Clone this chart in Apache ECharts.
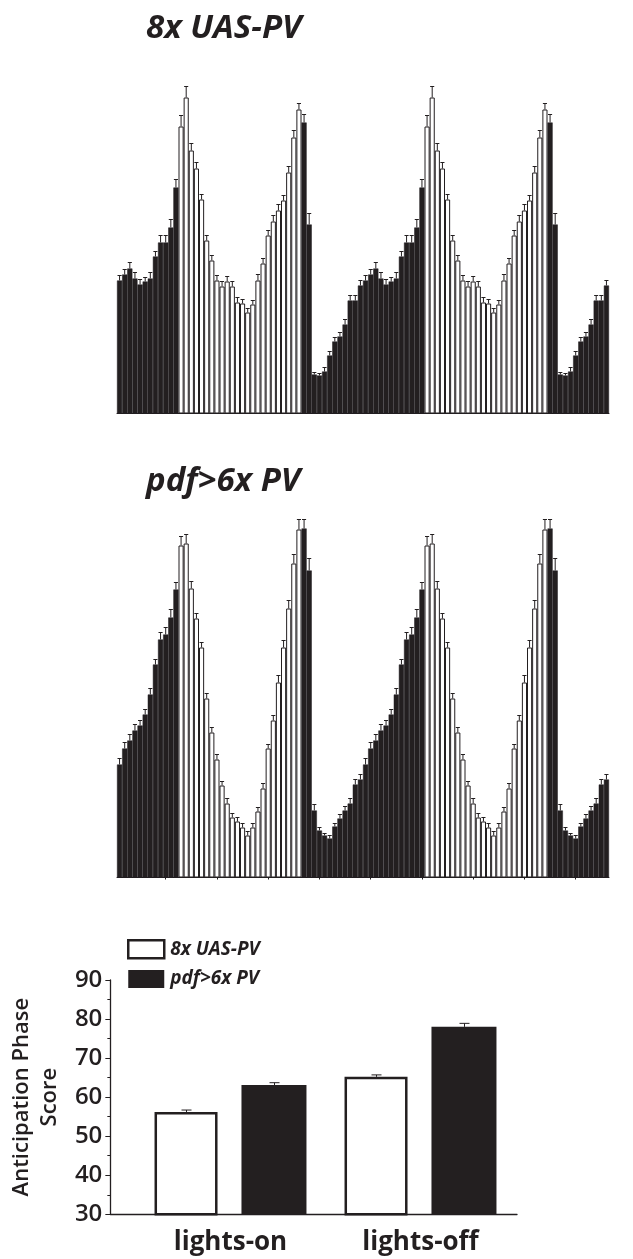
<!DOCTYPE html>
<html lang="en">
<head>
<meta charset="UTF-8">
<title>Anticipation</title>
<script src="https://cdn.jsdelivr.net/npm/echarts@6/dist/echarts.min.js"></script>
<style>
  html, body { margin: 0; padding: 0; background: #fff; }
  #main { width: 633px; height: 1259px; }
</style>
</head>
<body>
<div id="main"></div>
<script>
// half-hour bins, double plotted (2 days x 48 bins)
const binLabels = [];
for (let i = 1; i <= 96; i++) binLabels.push(String(i));

// lights-on bins (0-based, end exclusive)
const lightBins = [[12, 36], [60, 84]];

// 8x UAS-PV activity (mean, sem)
const uasMean = [
  133, 139, 145, 135, 129, 132, 135, 157, 171, 171, 186, 226,
  287, 316, 263, 245, 214, 173, 153, 133, 127, 132, 127, 111,
  110, 101, 109, 133, 150, 178, 192, 203, 213, 241, 276, 304,
  291, 189, 39, 38, 42, 58, 72, 77, 89, 113, 113, 128,
  133, 139, 145, 135, 129, 132, 135, 157, 171, 171, 186, 226,
  287, 316, 263, 245, 214, 173, 153, 133, 127, 132, 127, 111,
  110, 101, 109, 133, 150, 178, 192, 203, 213, 241, 276, 304,
  291, 189, 39, 38, 42, 58, 72, 77, 89, 113, 113, 128
];
const uasErr = [
  5, 5, 6, 6, 5, 4, 6, 5, 7, 7, 8, 8,
  11, 11, 7, 6, 5, 5, 5, 5, 5, 5, 5, 5,
  4, 4, 4, 6, 5, 5, 6, 6, 5, 6, 7, 6,
  8, 11, 2, 2, 4, 4, 4, 4, 5, 5, 5, 5,
  5, 5, 6, 6, 5, 4, 6, 5, 7, 7, 8, 8,
  11, 11, 7, 6, 5, 5, 5, 5, 5, 5, 5, 5,
  4, 4, 4, 6, 5, 5, 6, 6, 5, 6, 7, 6,
  8, 11, 2, 2, 4, 4, 4, 4, 5, 5, 5, 5
];

// pdf>6x PV activity (mean, sem)
const pdfMean = [
  113, 129, 137, 147, 152, 163, 183, 213, 238, 243, 260, 288,
  332, 334, 289, 259, 230, 179, 145, 118, 92, 74, 60, 56,
  50, 42, 50, 66, 89, 129, 157, 195, 230, 269, 314, 348,
  349, 307, 67, 47, 42, 39, 51, 59, 67, 74, 93, 98,
  113, 129, 137, 147, 152, 163, 183, 213, 238, 243, 260, 288,
  332, 334, 289, 259, 230, 179, 145, 118, 92, 74, 60, 56,
  50, 42, 50, 66, 89, 129, 157, 195, 230, 269, 314, 348,
  349, 307, 67, 47, 42, 39, 51, 59, 67, 74, 93, 98
];
const pdfErr = [
  6, 6, 6, 6, 5, 5, 6, 5, 7, 7, 8, 7,
  9, 9, 7, 5, 5, 5, 5, 5, 4, 5, 4, 4,
  4, 4, 4, 4, 5, 4, 5, 7, 7, 8, 9, 10,
  9, 12, 6, 3, 2, 3, 3, 4, 4, 5, 5, 5,
  6, 6, 6, 6, 5, 5, 6, 5, 7, 7, 8, 7,
  9, 9, 7, 5, 5, 5, 5, 5, 4, 5, 4, 4,
  4, 4, 4, 4, 5, 4, 5, 7, 7, 8, 9, 10,
  9, 12, 6, 3, 2, 3, 3, 4, 4, 5, 5, 5
];

// anticipation phase score
const scoreCategories = ['lights-on', 'lights-off'];
const uasScore = [56.2, 65.2];
const uasScoreErr = [0.5, 0.5];
const pdfScore = [63.1, 78.0];
const pdfScoreErr = [0.6, 0.9];

const ink = '#231f20';
const font = 'Open Sans';

function isLight(i) {
  return lightBins.some(function (r) { return i >= r[0] && i < r[1]; });
}

function barData(means) {
  return means.map(function (v, i) {
    return {
      value: v,
      itemStyle: isLight(i)
        ? { color: '#fff', borderColor: ink, borderWidth: 1 }
        : { color: ink, borderColor: ink, borderWidth: 0.5 }
    };
  });
}

function errData(means, errs) {
  return means.map(function (v, i) { return [i, v, v + errs[i]]; });
}

// upper whisker with cap; shift = pixel offset from category centre
function errRender(shift, capW) {
  return function (params, api) {
    const x = api.value(0);
    const p0 = api.coord([x, api.value(1)]);
    const p1 = api.coord([x, api.value(2)]);
    const cx = p0[0] + shift;
    const w = capW || api.size([1, 0])[0] * 0.8;
    const st = { stroke: ink, lineWidth: 1 };
    return {
      type: 'group',
      children: [
        { type: 'line', shape: { x1: cx, y1: p0[1], x2: cx, y2: p1[1] }, style: st },
        { type: 'line', shape: { x1: cx - w / 2, y1: p1[1], x2: cx + w / 2, y2: p1[1] }, style: st }
      ]
    };
  };
}

function actXAxis(grid, inside) {
  return {
    type: 'category', gridIndex: grid, data: binLabels,
    axisLine: { lineStyle: { color: ink, width: 1 } },
    axisTick: {
      show: true, inside: inside, length: 2, alignWithLabel: true,
      interval: function (idx) { return idx % 10 === 9; },
      lineStyle: { color: ink }
    },
    axisLabel: { show: false }
  };
}

const titleStyle = { fontSize: 33, fontWeight: 'bold', fontStyle: 'italic', fontFamily: font, color: ink };

const myChart = echarts.init(document.getElementById('main'));
myChart.setOption({
  animation: false,
  backgroundColor: '#fff',
  textStyle: { fontFamily: font, color: ink },
  title: [
    { text: '8x UAS-PV', left: 146, top: 12, padding: 0, textStyle: titleStyle },
    { text: 'pdf>6x PV', left: 146, top: 465, padding: 0, textStyle: titleStyle }
  ],
  legend: {
    orient: 'vertical', left: 127, top: 939, padding: 0,
    itemWidth: 36, itemHeight: 18, itemGap: 10, icon: 'rect',
    selectedMode: false,
    data: [
      { name: '8x UAS-PV', itemStyle: { color: '#fff', borderColor: ink, borderWidth: 2.5 } },
      { name: 'pdf>6x PV', itemStyle: { color: ink } }
    ],
    textStyle: { fontSize: 19, fontWeight: 'bold', fontStyle: 'italic', fontFamily: font, color: ink, padding: [0, 0, 0, 1] }
  },
  grid: [
    { left: 117, width: 492, top: 53.5, height: 360 },
    { left: 117, width: 492, top: 517.5, height: 360 },
    { left: 104.5, right: 116, top: 980, height: 234.3 },
    { left: 135.5, right: 117.5, top: 980, height: 234.3 }
  ],
  xAxis: [
    actXAxis(0, true),
    actXAxis(1, false),
    {
      type: 'category', gridIndex: 2, data: [''],
      axisLine: { lineStyle: { color: ink, width: 1.3 } },
      axisTick: { show: false }, axisLabel: { show: false }
    },
    {
      type: 'category', gridIndex: 3, data: scoreCategories,
      axisLine: { show: false }, axisTick: { show: false },
      axisLabel: { fontSize: 26, fontWeight: 'bold', fontFamily: font, color: ink, margin: 15 }
    }
  ],
  yAxis: [
    { type: 'value', gridIndex: 0, min: 0, max: 360, show: false },
    { type: 'value', gridIndex: 1, min: 0, max: 360, show: false },
    {
      type: 'value', gridIndex: 2, min: 30, max: 90, interval: 10,
      name: 'Anticipation Phase\nScore', nameLocation: 'middle', nameGap: 38, nameRotate: 90,
      nameTextStyle: { fontSize: 22, fontWeight: 600, fontFamily: font, color: ink, lineHeight: 28 },
      axisLine: { show: true, lineStyle: { color: ink, width: 1.3 } },
      axisTick: { show: true, length: 5, lineStyle: { color: ink } },
      minorTick: { show: true, splitNumber: 2, length: 3, lineStyle: { color: ink } },
      splitLine: { show: false },
      axisLabel: { fontSize: 24, fontWeight: 600, fontFamily: font, color: ink, margin: 8 }
    },
    { type: 'value', gridIndex: 3, min: 30, max: 90, show: false }
  ],
  series: [
    {
      type: 'bar', xAxisIndex: 0, yAxisIndex: 0, barCategoryGap: '0%',
      data: barData(uasMean)
    },
    {
      type: 'custom', xAxisIndex: 0, yAxisIndex: 0,
      renderItem: errRender(0), data: errData(uasMean, uasErr), z: 3
    },
    {
      type: 'bar', xAxisIndex: 1, yAxisIndex: 1, barCategoryGap: '0%',
      data: barData(pdfMean)
    },
    {
      type: 'custom', xAxisIndex: 1, yAxisIndex: 1,
      renderItem: errRender(0), data: errData(pdfMean, pdfErr), z: 3
    },
    {
      name: '8x UAS-PV', type: 'bar', xAxisIndex: 3, yAxisIndex: 3,
      barWidth: 63, barGap: '38%',
      itemStyle: { color: '#fff', borderColor: ink, borderWidth: 2.5 },
      data: uasScore
    },
    {
      name: 'pdf>6x PV', type: 'bar', xAxisIndex: 3, yAxisIndex: 3,
      barWidth: 65, barGap: '38%',
      itemStyle: { color: ink },
      data: pdfScore
    },
    {
      type: 'custom', xAxisIndex: 3, yAxisIndex: 3, z: 3,
      renderItem: errRender(-44, 10), data: errData(uasScore, uasScoreErr)
    },
    {
      type: 'custom', xAxisIndex: 3, yAxisIndex: 3, z: 3,
      renderItem: errRender(44, 10), data: errData(pdfScore, pdfScoreErr)
    }
  ]
});
</script>
</body>
</html>
